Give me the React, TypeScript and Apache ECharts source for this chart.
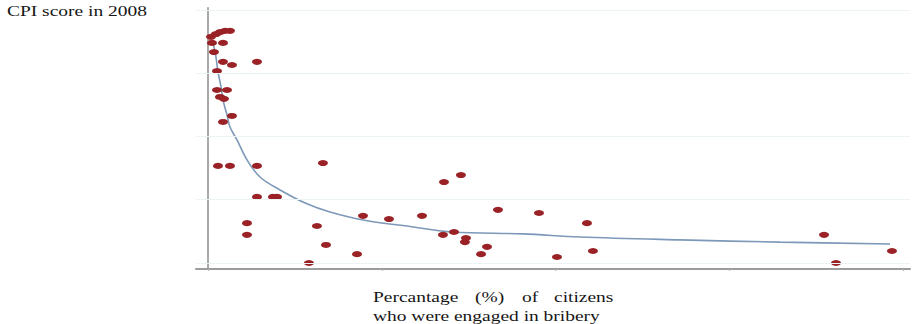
import React, { useEffect, useRef } from "react";
import * as echarts from "echarts";

// Share of citizens who paid a bribe (%) for each country
const bribery: number[] = [
  0.35, 0.92, 1.38, 1.96, 2.53, 0.46, 1.73, 0.69, 1.73, 2.76,
  5.64, 1.04, 1.04, 2.19, 1.38, 1.84, 2.76, 1.73, 1.15, 2.53,
  5.64, 13.23, 5.64, 7.48, 7.94, 4.49, 4.49, 12.54, 13.58, 11.62,
  17.15, 17.84, 20.83, 24.63, 27.16, 29.11, 27.04, 28.31, 29.69, 29.57,
  32.11, 31.42, 33.37, 38.09, 43.61, 40.16, 44.3, 70.89, 72.27, 78.71,
];

// Corruption Perceptions Index score in 2008, same country order
const cpi: number[] = [
  9.15, 9.24, 9.3, 9.34, 9.34, 8.96, 8.96, 8.67, 8.36, 8.26,
  8.36, 8.07, 7.47, 7.47, 7.25, 7.19, 6.65, 6.46, 5.07, 5.07,
  5.07, 5.16, 4.09, 4.09, 4.09, 3.26, 2.89, 3.17, 2.57, 2.0,
  2.28, 3.49, 3.39, 3.49, 4.56, 4.78, 2.89, 2.98, 2.79, 2.66,
  2.51, 2.28, 3.68, 3.58, 3.26, 2.19, 2.38, 2.89, 2.0, 2.38,
];

// Fitted trend curve
const fitX: number[] = [
  0.58, 0.92, 1.15, 1.5, 1.73, 2.19, 2.53, 3.34, 4.49, 5.98, 8.29,
  11.39, 14.04, 17.84, 23.59, 28.19, 36.25, 42.81, 54.31, 65.82, 78.48,
];
const fitY: number[] = [
  8.96, 8.51, 8.04, 7.57, 7.15, 6.68, 6.3, 5.89, 5.26, 4.72, 4.31,
  3.87, 3.61, 3.36, 3.14, 2.98, 2.92, 2.82, 2.73, 2.66, 2.6,
];

const xTicks: number[] = [0, 20, 40, 60, 80];
const yGridValues: number[] = [2, 4, 6, 8, 10];

const yTitle = "CPI score in 2008";
const xTitleWords: string[] = ["Percantage", "(%)", "of", "citizens"];
const xTitleLine2 = "who were engaged in bribery";

const STRETCH = 1.39;

export default function App() {
  const ref = useRef<HTMLDivElement>(null);

  useEffect(() => {
    document.body.style.margin = "0";
    if (!ref.current) return;
    const chart = echarts.init(ref.current, undefined, { renderer: "svg" });

    const points = bribery.map((x, i) => [x, cpi[i]]);
    const curve = fitX.map((x, i) => [x, fitY[i]]);

    const textStyle = (text: string) => ({
      text,
      fontFamily: "Liberation Serif",
      fontSize: 14,
      fill: "#161616",
      verticalAlign: "top",
    });

    const wordX = [373, 475, 522, 554];

    chart.setOption({
      animation: false,
      grid: { left: 196, top: 8, right: 2, bottom: 55 },
      xAxis: {
        type: "value",
        min: -1.38,
        max: 80.78,
        axisLine: { show: true, lineStyle: { color: "#9c9c9c", width: 2 } },
        axisTick: {
          show: true,
          customValues: xTicks,
          length: 2,
          lineStyle: { color: "#b5b5b5" },
        },
        axisLabel: { show: false },
        splitLine: { show: false },
      },
      yAxis: {
        type: "value",
        min: 1.81,
        max: 10.063,
        axisLine: { show: true, lineStyle: { color: "#a8a8a8", width: 2 } },
        axisTick: { show: false },
        axisLabel: { show: false },
        splitLine: { show: false },
      },
      series: [
        {
          type: "line",
          data: curve,
          smooth: 0.35,
          symbol: "none",
          z: 3,
          lineStyle: { color: "#7d98b8", width: 1.6 },
          markLine: {
            silent: true,
            symbol: "none",
            label: { show: false },
            lineStyle: { color: "#ebf3f3", width: 1, type: "solid" },
            data: yGridValues.map((v) => ({ yAxis: v })),
          },
        },
        {
          type: "scatter",
          data: points,
          symbol: "circle",
          symbolSize: [10, 6],
          z: 4,
          itemStyle: { color: "#9a2226", opacity: 1 },
        },
      ],
      graphic: [
        {
          type: "text",
          x: 7,
          y: 4,
          scaleX: STRETCH,
          style: textStyle(yTitle),
        },
        ...xTitleWords.map((w, i) => ({
          type: "text",
          x: wordX[i],
          y: 290,
          scaleX: STRETCH,
          style: textStyle(w),
        })),
        {
          type: "text",
          x: 373,
          y: 309,
          scaleX: STRETCH,
          style: textStyle(xTitleLine2),
        },
      ],
    });

    return () => chart.dispose();
  }, []);

  return <div ref={ref} style={{ width: 912, height: 324 }} />;
}
